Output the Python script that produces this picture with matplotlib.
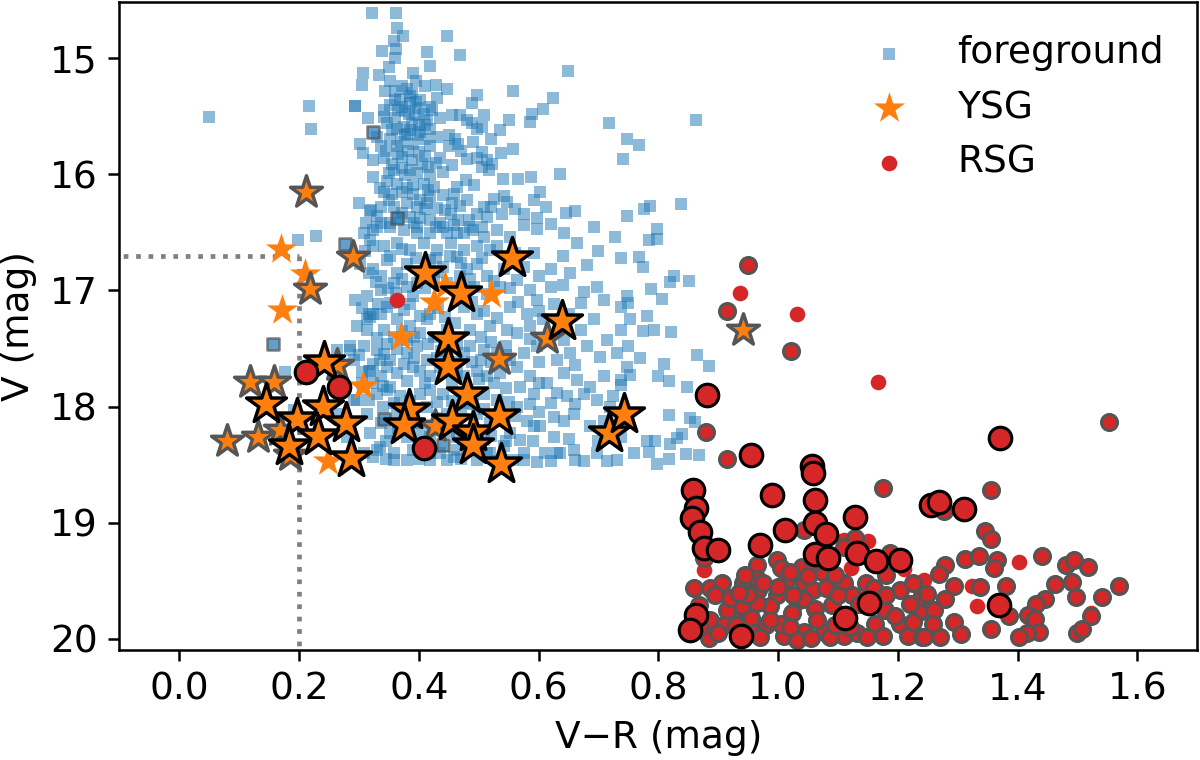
import matplotlib
matplotlib.use("Agg")
import matplotlib.pyplot as plt

plt.rcParams['font.size'] = 12

# foreground stars (V-R, V)
fg = [
    (0.050, 15.51), (0.217, 15.41), (0.220, 15.61), (0.198, 16.57), (0.228, 16.53), (0.293, 15.41),
    (0.321, 14.61), (0.362, 14.61), (0.363, 14.74), (0.373, 14.81), (0.358, 14.85), (0.362, 14.92),
    (0.338, 14.94), (0.361, 15.00), (0.351, 15.08), (0.413, 14.95), (0.447, 14.81), (0.469, 14.97),
    (0.418, 15.07), (0.391, 15.13), (0.307, 15.13), (0.333, 15.15), (0.305, 15.23), (0.344, 15.28),
    (0.361, 15.28), (0.380, 15.27), (0.388, 15.30), (0.410, 15.24), (0.429, 15.23), (0.447, 15.27),
    (0.497, 15.32), (0.489, 15.39), (0.557, 15.28), (0.624, 15.34), (0.649, 15.11), (0.607, 15.44),
    (0.589, 15.48), (0.585, 15.55), (0.551, 15.53), (0.718, 15.56), (0.747, 15.70), (0.741, 15.87),
    (0.294, 15.41), (0.315, 15.52), (0.301, 15.74), (0.306, 15.82),
    (0.369, 15.35), (0.386, 15.39), (0.402, 15.36), (0.419, 15.42), (0.377, 15.46), (0.394, 15.49),
    (0.408, 15.48), (0.388, 15.56), (0.400, 15.58), (0.375, 15.59), (0.361, 15.52), (0.341, 15.45),
    (0.347, 15.56), (0.363, 15.61), (0.380, 15.65), (0.402, 15.64), (0.419, 15.61), (0.377, 15.66),
    (0.398, 15.66), (0.422, 15.45), (0.386, 15.33), (0.372, 15.42), (0.414, 15.53), (0.341, 15.51),
    (0.455, 15.49), (0.469, 15.49), (0.480, 15.53), (0.508, 15.49), (0.505, 15.59), (0.497, 15.61),
    (0.489, 15.56), (0.450, 15.66), (0.466, 15.74), (0.490, 15.72), (0.450, 15.76),
    (0.557, 15.78), (0.538, 15.82), (0.505, 15.81), (0.497, 15.86), (0.514, 15.88), (0.522, 15.91),
    (0.505, 15.94), (0.517, 15.96), (0.480, 15.87),
    (0.541, 16.04), (0.566, 16.04), (0.588, 16.02), (0.635, 16.00), (0.602, 16.15), (0.593, 16.22),
    (0.575, 16.34), (0.597, 16.38), (0.620, 16.43), (0.646, 16.33), (0.660, 16.32), (0.692, 16.45),
    (0.728, 16.54), (0.748, 16.36),
    (0.336, 15.76), (0.363, 15.76), (0.324, 15.88), (0.341, 15.86), (0.355, 15.91), (0.358, 15.96),
    (0.372, 15.85), (0.388, 15.88), (0.400, 15.81), (0.419, 15.76), (0.405, 15.91), (0.416, 15.94),
    (0.386, 15.96), (0.397, 15.99), (0.419, 16.01), (0.436, 15.86), (0.324, 16.02), (0.347, 16.06),
    (0.363, 16.08), (0.377, 16.01), (0.391, 16.09), (0.408, 16.08), (0.425, 16.11), (0.341, 16.15),
    (0.355, 16.17), (0.372, 16.15), (0.391, 16.17), (0.402, 16.22), (0.419, 16.19), (0.336, 16.28),
    (0.358, 16.28), (0.380, 16.25), (0.397, 16.28), (0.414, 16.25), (0.430, 16.29), (0.444, 16.31),
    (0.319, 16.32), (0.366, 16.38), (0.386, 16.37), (0.402, 16.38), (0.419, 16.39), (0.336, 16.42),
    (0.352, 16.45), (0.375, 16.48), (0.397, 16.51), (0.419, 16.51), (0.436, 16.42), (0.447, 16.51),
    (0.308, 16.51), (0.324, 16.48), (0.469, 16.27), (0.480, 16.22), (0.458, 16.17), (0.464, 16.11),
    (0.478, 16.05), (0.492, 16.09), (0.453, 16.34), (0.466, 16.39), (0.483, 16.39), (0.497, 16.34),
    (0.508, 16.28), (0.514, 16.37), (0.525, 16.21), (0.542, 16.19), (0.547, 16.24), (0.539, 16.34),
    (0.505, 16.45), (0.475, 16.51), (0.508, 16.54),
    (0.320, 16.31), (0.323, 16.62), (0.316, 16.85), (0.294, 17.08), (0.317, 17.20),
    (0.330, 16.45), (0.352, 16.42), (0.397, 16.45), (0.441, 16.45), (0.464, 16.51), (0.486, 16.45),
    (0.530, 16.48), (0.553, 16.54), (0.575, 16.44), (0.597, 16.47), (0.642, 16.51), (0.664, 16.59),
    (0.737, 16.72), (0.592, 16.68), (0.620, 16.82), (0.653, 16.85), (0.675, 17.01), (0.698, 16.97),
    (0.302, 16.77), (0.324, 16.82), (0.347, 16.74), (0.363, 16.85), (0.380, 16.77), (0.397, 16.94),
    (0.419, 16.74), (0.441, 16.80), (0.464, 16.71), (0.480, 16.82), (0.497, 16.77), (0.514, 16.88),
    (0.542, 16.82), (0.564, 16.91), (0.586, 17.00), (0.597, 17.08), (0.620, 16.97), (0.670, 17.11),
    (0.709, 17.08), (0.737, 17.14), (0.748, 17.05), (0.313, 17.05), (0.336, 17.00), (0.352, 17.11),
    (0.375, 17.17), (0.391, 17.05), (0.419, 17.20), (0.444, 17.23), (0.475, 17.14), (0.497, 17.20),
    (0.553, 17.14), (0.581, 17.20),
    (0.297, 17.31), (0.319, 17.23), (0.341, 17.34), (0.363, 17.25), (0.386, 17.31), (0.402, 17.37),
    (0.414, 17.25), (0.486, 17.34), (0.503, 17.40), (0.519, 17.31), (0.547, 17.34), (0.564, 17.37),
    (0.586, 17.31), (0.608, 17.25), (0.642, 17.43), (0.670, 17.34), (0.692, 17.25), (0.714, 17.43),
    (0.737, 17.34), (0.753, 17.25), (0.308, 17.48), (0.330, 17.51), (0.352, 17.60), (0.380, 17.54),
    (0.397, 17.48), (0.414, 17.60), (0.475, 17.54), (0.503, 17.60), (0.553, 17.60), (0.575, 17.54),
    (0.597, 17.48), (0.631, 17.60), (0.653, 17.54), (0.681, 17.48), (0.703, 17.57), (0.731, 17.54),
    (0.285, 17.51), (0.319, 17.69), (0.336, 17.74), (0.363, 17.71), (0.391, 17.66), (0.419, 17.74),
    (0.436, 17.66), (0.464, 17.71), (0.514, 17.74), (0.536, 17.71), (0.564, 17.66), (0.586, 17.74),
    (0.614, 17.80), (0.642, 17.71), (0.664, 17.77), (0.686, 17.83), (0.709, 17.74), (0.737, 17.77),
    (0.748, 17.66), (0.330, 17.89), (0.352, 17.83), (0.369, 17.91), (0.402, 17.89), (0.419, 17.86),
    (0.441, 17.89), (0.508, 17.89), (0.530, 17.94), (0.569, 17.83), (0.592, 17.89), (0.620, 17.97),
    (0.647, 17.91), (0.675, 17.89), (0.698, 17.94), (0.725, 17.91),
    (0.291, 17.94), (0.313, 18.06), (0.336, 18.14), (0.352, 18.23), (0.380, 18.26), (0.419, 18.26),
    (0.436, 18.17), (0.464, 18.26), (0.508, 18.29), (0.564, 18.00), (0.581, 18.12), (0.603, 18.17),
    (0.625, 18.26), (0.642, 18.12), (0.659, 18.06), (0.686, 18.17), (0.709, 18.12), (0.720, 18.00),
    (0.737, 18.26), (0.308, 18.40), (0.330, 18.37), (0.358, 18.40), (0.380, 18.46), (0.419, 18.40),
    (0.447, 18.46), (0.464, 18.37), (0.497, 18.46), (0.519, 18.40), (0.575, 18.40), (0.597, 18.48),
    (0.631, 18.40), (0.659, 18.37), (0.675, 18.47), (0.698, 18.40), (0.731, 18.46),
    (0.863, 15.53), (0.768, 15.75), (0.837, 16.26), (0.786, 16.27), (0.776, 16.30), (0.798, 16.47),
    (0.784, 16.57), (0.798, 16.56), (0.767, 16.71), (0.774, 16.80), (0.826, 16.88), (0.819, 16.93),
    (0.851, 16.92), (0.788, 16.99), (0.806, 17.07), (0.749, 17.11), (0.781, 17.22), (0.792, 17.34),
    (0.775, 17.35), (0.821, 17.36), (0.750, 17.48), (0.769, 17.58), (0.810, 17.63), (0.864, 17.56),
    (0.884, 17.65), (0.800, 17.74), (0.818, 17.78), (0.753, 17.73), (0.738, 17.81), (0.847, 17.83),
    (0.818, 18.07), (0.853, 18.10), (0.861, 18.13), (0.839, 18.24), (0.831, 18.27), (0.820, 18.32),
    (0.794, 18.30), (0.781, 18.30), (0.784, 18.39), (0.817, 18.45), (0.846, 18.41), (0.867, 18.42),
    (0.798, 18.49),
    (0.177, 17.70), (0.191, 18.03), (0.263, 17.51), (0.285, 17.48), (0.291, 17.60), (0.316, 17.69),
    (0.324, 17.80), (0.316, 17.94), (0.296, 17.94), (0.319, 18.23), (0.335, 18.35), (0.324, 18.43),
    (0.358, 17.97), (0.347, 17.86), (0.335, 17.60), (0.347, 17.46), (0.324, 17.20), (0.313, 17.34),
    (0.347, 17.14), (0.263, 18.06), (0.280, 18.26), (0.358, 18.46), (0.402, 18.37), (0.419, 18.46),
    (0.458, 18.43), (0.514, 18.40), (0.575, 18.46), (0.569, 18.29), (0.592, 18.17), (0.625, 18.09),
    (0.636, 18.40),
    (0.319, 16.57), (0.341, 16.62), (0.363, 16.59), (0.386, 16.65), (0.408, 16.59), (0.430, 16.65),
    (0.453, 16.59), (0.475, 16.65), (0.497, 16.62), (0.519, 16.65), (0.336, 16.88), (0.358, 16.94),
    (0.380, 16.97), (0.402, 16.85), (0.425, 16.91), (0.447, 16.94), (0.469, 16.88), (0.492, 16.97),
    (0.514, 17.03), (0.536, 16.97), (0.313, 17.25), (0.336, 17.20), (0.358, 17.40), (0.380, 17.43),
    (0.425, 17.40), (0.447, 17.34), (0.464, 17.46), (0.486, 17.48), (0.508, 17.51), (0.530, 17.54),
    (0.324, 17.63), (0.347, 17.66), (0.375, 17.63), (0.402, 17.69), (0.475, 17.74), (0.497, 17.69),
    (0.525, 17.80), (0.363, 18.06), (0.397, 18.14), (0.414, 18.00), (0.447, 18.06), (0.475, 17.97),
    (0.497, 18.06), (0.519, 18.14), (0.542, 18.12), (0.553, 18.23), (0.391, 18.37), (0.436, 18.40),
    (0.486, 18.37), (0.542, 18.34), (0.558, 18.46),
    (0.352, 15.20), (0.372, 15.24), (0.395, 15.20), (0.360, 15.36), (0.398, 15.43), (0.430, 15.34),
    (0.352, 15.40), (0.383, 15.48), (0.436, 15.52), (0.365, 15.45), (0.395, 15.38), (0.410, 15.58),
    (0.385, 15.62), (0.355, 15.62),
    (0.330, 15.68), (0.352, 15.70), (0.370, 15.72), (0.390, 15.74), (0.410, 15.70), (0.430, 15.68),
    (0.345, 15.80), (0.365, 15.83), (0.382, 15.80), (0.410, 15.84), (0.428, 15.90), (0.350, 15.99),
    (0.372, 15.95), (0.440, 15.98), (0.455, 15.92), (0.470, 15.80), (0.460, 15.70), (0.520, 15.70),
    (0.535, 15.62),
    (0.335, 16.12), (0.380, 16.12), (0.415, 16.14), (0.440, 16.18), (0.350, 16.22), (0.372, 16.33),
    (0.392, 16.42), (0.410, 16.30), (0.428, 16.45), (0.458, 16.44), (0.490, 16.48), (0.330, 16.36),
    (0.300, 16.25), (0.312, 16.42), (0.455, 16.25), (0.520, 16.28), (0.560, 16.30), (0.612, 16.28),
    (0.310, 16.66), (0.352, 16.70), (0.372, 16.64), (0.395, 16.72), (0.428, 16.72), (0.452, 16.70),
    (0.470, 16.76), (0.505, 16.72), (0.530, 16.62), (0.560, 16.68), (0.575, 16.80), (0.600, 16.88),
    (0.640, 16.70), (0.680, 16.78), (0.700, 16.66), (0.328, 16.93), (0.348, 16.98), (0.372, 16.90),
    (0.410, 16.98), (0.432, 16.84), (0.460, 16.98), (0.485, 16.90), (0.525, 16.92), (0.552, 16.98),
    (0.640, 16.95),
    (0.305, 17.15), (0.332, 17.12), (0.362, 17.02), (0.386, 17.12), (0.402, 17.22), (0.432, 17.15),
    (0.460, 17.28), (0.488, 17.10), (0.508, 17.18), (0.530, 17.24), (0.565, 17.10), (0.600, 17.18),
    (0.625, 17.12), (0.650, 17.20), (0.330, 17.41), (0.372, 17.35), (0.392, 17.40), (0.416, 17.46),
    (0.437, 17.52), (0.520, 17.44), (0.545, 17.48), (0.585, 17.42), (0.620, 17.38),
    (0.300, 17.56), (0.342, 17.55), (0.364, 17.50), (0.392, 17.58), (0.430, 17.58), (0.460, 17.62),
    (0.488, 17.62), (0.520, 17.62), (0.545, 17.56), (0.600, 17.62), (0.660, 17.64), (0.305, 17.80),
    (0.340, 17.82), (0.380, 17.78), (0.410, 17.80), (0.455, 17.80), (0.500, 17.76), (0.545, 17.84),
    (0.600, 17.80), (0.630, 17.88), (0.305, 17.70), (0.385, 17.95), (0.430, 17.96), (0.455, 17.95),
    (0.490, 17.98), (0.550, 17.96), (0.585, 17.98), (0.660, 17.98),
    (0.340, 18.00), (0.380, 18.08), (0.430, 18.10), (0.470, 18.05), (0.508, 18.02), (0.560, 18.08),
    (0.600, 18.05), (0.345, 18.30), (0.365, 18.18), (0.400, 18.22), (0.420, 18.18), (0.450, 18.22),
    (0.480, 18.30), (0.520, 18.25), (0.545, 18.30), (0.590, 18.30), (0.610, 18.40), (0.650, 18.28),
    (0.700, 18.30), (0.345, 18.45), (0.400, 18.45), (0.470, 18.45), (0.530, 18.47), (0.620, 18.47),
    (0.660, 18.46), (0.715, 18.47), (0.760, 18.40),
]
# foreground stars with a grey outline
fg_edge = [(0.156, 17.46), (0.276, 16.60), (0.324, 15.64), (0.364, 16.38), (0.342, 18.11), (0.441, 18.33)]

# yellow supergiants
ysg_all = [
    (0.170, 16.64), (0.210, 16.86), (0.171, 17.17), (0.426, 17.10), (0.443, 16.96), (0.521, 17.03),
    (0.371, 17.40), (0.306, 17.82), (0.249, 18.47),
]
ysg_grey = [
    (0.212, 16.15), (0.290, 16.71), (0.218, 16.99), (0.534, 17.59), (0.614, 17.41), (0.942, 17.34),
    (0.118, 17.79), (0.158, 17.79), (0.079, 18.30), (0.132, 18.26), (0.168, 18.20), (0.185, 18.42),
    (0.263, 17.64), (0.427, 18.17),
]
ysg_black = [
    (0.242, 17.62), (0.144, 17.98), (0.240, 18.00), (0.196, 18.11), (0.279, 18.14), (0.231, 18.25),
    (0.183, 18.34), (0.286, 18.44), (0.411, 16.85), (0.470, 17.02), (0.556, 16.72), (0.639, 17.26),
    (0.448, 17.42), (0.448, 17.65), (0.481, 17.89), (0.383, 18.03), (0.376, 18.16), (0.455, 18.12),
    (0.490, 18.22), (0.490, 18.33), (0.534, 18.08), (0.538, 18.49), (0.718, 18.23), (0.743, 18.06),
]

# red supergiants
rsg_all = [
    (0.363, 17.08), (0.936, 17.02), (1.032, 17.20), (1.166, 17.79), (0.876, 19.41), (1.121, 19.39),
    (1.402, 19.34), (1.324, 19.54), (1.332, 19.72), (1.243, 19.49), (1.523, 19.78), (1.110, 19.15),
    (1.150, 19.16), (1.030, 19.70), (1.140, 19.66), (1.210, 19.40),
]
rsg_grey = [
    (0.949, 16.78), (0.914, 17.18), (1.022, 17.52), (0.880, 18.22), (0.914, 18.45), (1.552, 18.13),
    (1.175, 18.70), (1.356, 18.72), (1.252, 18.85), (1.277, 18.90),
    (1.043, 19.06), (1.129, 19.13), (1.110, 19.21), (0.965, 19.36), (0.998, 19.32), (1.004, 19.39),
    (1.040, 19.38), (1.073, 19.42), (1.059, 19.34), (0.859, 19.56), (0.886, 19.56), (0.906, 19.52),
    (0.942, 19.52), (0.967, 19.58), (0.964, 19.48), (1.015, 19.48), (0.998, 19.62), (1.043, 19.52),
    (1.059, 19.58), (1.110, 19.52), (1.147, 19.52), (1.123, 19.62), (1.204, 19.58), (1.238, 19.65),
    (0.867, 19.71), (0.926, 19.78), (0.940, 19.72), (0.954, 19.82), (0.987, 19.72), (1.023, 19.78),
    (1.042, 19.66), (1.062, 19.74), (1.090, 19.71), (1.179, 19.75), (1.204, 19.87), (1.235, 19.77),
    (0.887, 19.84), (0.909, 19.88), (0.979, 19.88), (1.009, 19.97), (1.043, 19.94), (1.076, 19.94),
    (1.032, 20.01), (1.110, 19.97), (1.132, 19.95), (1.162, 19.87), (1.216, 19.97), (1.240, 19.98),
    (0.884, 19.99), (0.959, 19.95), (1.004, 19.87), (1.149, 19.98), (1.087, 19.98), (1.065, 19.84),
    (0.915, 19.75), (0.965, 19.69), (0.987, 19.84), (1.187, 19.26), (0.876, 19.30),
    (0.895, 19.62), (0.920, 19.65), (0.950, 19.62), (0.975, 19.52), (1.000, 19.55), (1.025, 19.62),
    (1.050, 19.46), (1.080, 19.56), (1.100, 19.62), (1.135, 19.70), (1.160, 19.56), (1.180, 19.62),
    (1.220, 19.70), (0.900, 19.95), (0.930, 19.88), (0.970, 19.98), (1.020, 19.90), (1.055, 19.99),
    (1.095, 19.88), (1.120, 19.90), (1.175, 19.97), (1.195, 19.80), (1.225, 19.85), (0.870, 19.90),
    (0.945, 19.45), (1.020, 19.42), (1.095, 19.45), (1.180, 19.45), (1.225, 19.52), (0.935, 19.60),
    (1.345, 19.07), (1.356, 19.14), (1.312, 19.31), (1.335, 19.29), (1.365, 19.32), (1.361, 19.39),
    (1.278, 19.36), (1.268, 19.44), (1.441, 19.29), (1.480, 19.36), (1.494, 19.32), (1.517, 19.38),
    (1.293, 19.54), (1.337, 19.55), (1.380, 19.54), (1.463, 19.53), (1.491, 19.51), (1.569, 19.54),
    (1.497, 19.64), (1.540, 19.64), (1.445, 19.66), (1.430, 19.70), (1.279, 19.66), (1.249, 19.61),
    (1.260, 19.75), (1.385, 19.80), (1.417, 19.79), (1.429, 19.83), (1.523, 19.80), (1.293, 19.85),
    (1.355, 19.91), (1.435, 19.94), (1.416, 19.95), (1.402, 19.98), (1.499, 19.95), (1.508, 19.91),
    (1.306, 19.96), (1.271, 19.98), (1.259, 19.87), (1.243, 19.98),
]
rsg_black = [
    (0.212, 17.70), (0.267, 17.83), (0.409, 18.36),
    (0.882, 17.90), (0.954, 18.42), (1.056, 18.51), (1.058, 18.57), (1.371, 18.27),
    (0.858, 18.72), (0.862, 18.87), (0.856, 18.96), (0.870, 19.08), (0.877, 19.22), (0.900, 19.23),
    (0.990, 18.76), (1.062, 18.80), (1.062, 19.00), (1.080, 19.10), (1.012, 19.06), (0.969, 19.19),
    (1.128, 18.95), (1.061, 19.27), (1.084, 19.30), (1.132, 19.26), (1.164, 19.33), (1.203, 19.32),
    (1.152, 19.69), (1.112, 19.82), (0.863, 19.79), (0.853, 19.92), (0.938, 19.97),
    (1.255, 18.85), (1.268, 18.82), (1.310, 18.88), (1.369, 19.71),
]

# colour / magnitude cuts
vr_cut = 0.2
v_cut = 16.7


def xy(pts):
    return [p[0] for p in pts], [p[1] for p in pts]


fig = plt.figure(figsize=(1200 / 225, 760 / 225), dpi=225)
ax = fig.add_axes([0.0995, 0.1447, 0.8983, 0.8531])

ax.plot([vr_cut, vr_cut], [v_cut, 21], ls=':', color='grey', lw=1.5, zorder=1)
ax.plot([-1, vr_cut], [v_cut, v_cut], ls=':', color='grey', lw=1.5, zorder=1)

x, y = xy(fg)
ax.scatter(x, y, marker='s', s=13, color='C0', alpha=0.5, linewidths=0, label='foreground')
x, y = xy(fg_edge)
ax.scatter(x, y, marker='s', s=13, color='C0', alpha=0.7, edgecolors='#505050', linewidths=0.8)

x, y = xy(ysg_all)
ax.scatter(x, y, marker='*', s=110, color='C1', linewidths=0, label='YSG')
x, y = xy(rsg_all)
ax.scatter(x, y, marker='o', s=25, color='C3', linewidths=0, label='RSG')

x, y = xy(ysg_grey)
ax.scatter(x, y, marker='*', s=115, color='C1', edgecolors='#555555', linewidths=1.1)
x, y = xy(rsg_grey)
ax.scatter(x, y, marker='o', s=26, color='C3', edgecolors='#555555', linewidths=1.0)

x, y = xy(ysg_black)
ax.scatter(x, y, marker='*', s=180, color='C1', edgecolors='k', linewidths=1.1)
x, y = xy(rsg_black)
ax.scatter(x, y, marker='o', s=52, color='C3', edgecolors='k', linewidths=1.0)

ax.set_xlim(-0.1, 1.7)
ax.set_ylim(20.095, 14.515)
ax.set_xlabel('V\u2212R (mag)')
ax.set_ylabel('V (mag)')
ax.legend(loc='upper right', frameon=False)

fig.savefig('out.png', dpi=225)
